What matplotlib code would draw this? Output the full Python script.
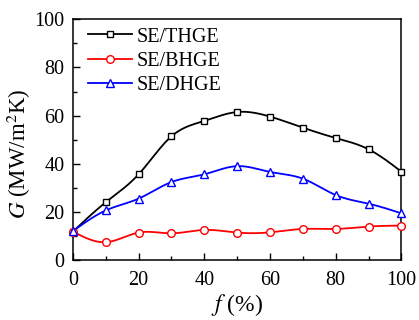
import numpy as np
import matplotlib
matplotlib.use('Agg')
from matplotlib import pyplot as plt
from matplotlib.lines import Line2D
from matplotlib.ticker import MultipleLocator

f = [0, 10, 20, 30, 40, 50, 60, 70, 80, 90, 100]
thge = [11.8, 24.0, 35.6, 51.4, 57.8, 61.5, 59.6, 55.0, 50.7, 46.0, 36.7]
bhge = [11.8, 7.4, 11.4, 11.1, 12.5, 11.4, 11.5, 12.9, 12.9, 13.9, 14.3]
dhge = [12.0, 20.6, 25.5, 32.4, 35.6, 39.0, 36.6, 33.8, 27.0, 23.4, 19.4]

labels = ['SE/THGE', 'SE/BHGE', 'SE/DHGE']
colors = ['black', 'red', 'blue']
markers = ['s', 'o', '^']
msizes = [5, 5.5, 6]


def smooth(x, y, n=20):
    # natural cubic spline for the connecting line
    x = np.asarray(x, float)
    y = np.asarray(y, float)
    m = len(x)
    h = np.diff(x)
    A = np.zeros((m, m))
    r = np.zeros(m)
    A[0, 0] = A[-1, -1] = 1
    for i in range(1, m - 1):
        A[i, i - 1] = h[i - 1]
        A[i, i] = 2 * (h[i - 1] + h[i])
        A[i, i + 1] = h[i]
        r[i] = 6 * ((y[i + 1] - y[i]) / h[i] - (y[i] - y[i - 1]) / h[i - 1])
    M = np.linalg.solve(A, r)
    xs, ys = [], []
    for i in range(m - 1):
        t = np.linspace(x[i], x[i + 1], n, endpoint=(i == m - 2))
        a = x[i + 1] - t
        b = t - x[i]
        v = (M[i] * a**3 + M[i + 1] * b**3) / (6 * h[i]) \
            + (y[i] / h[i] - M[i] * h[i] / 6) * a \
            + (y[i + 1] / h[i] - M[i + 1] * h[i] / 6) * b
        xs.extend(t)
        ys.extend(v)
    return xs, ys


plt.rcParams['font.family'] = ['Liberation Serif', 'DejaVu Serif']
plt.rcParams['mathtext.fontset'] = 'stix'

fig = plt.figure(figsize=(4.19, 3.2), dpi=100)
ax = fig.add_axes([0.174, 0.1875, 0.784, 0.752])

handles = []
for ys, lab, c, mk, ms in zip([thge, bhge, dhge], labels, colors, markers, msizes):
    sx, sy = smooth(f, ys)
    ax.plot(sx, sy, c=c, lw=1.3, zorder=2)
    ax.plot(f, ys, ls='none', marker=mk, ms=ms, mfc='white', mec=c, mew=1.0, zorder=3, clip_on=False)
    handles.append(Line2D([], [], c=c, lw=1.3, marker=mk, ms=ms, mfc='white', mec=c, mew=1.0))

ax.set_xlim(0, 100)
ax.set_ylim(0, 100)
ax.xaxis.set_major_locator(MultipleLocator(20))
ax.xaxis.set_minor_locator(MultipleLocator(10))
ax.yaxis.set_major_locator(MultipleLocator(20))
ax.yaxis.set_minor_locator(MultipleLocator(10))
ax.tick_params(which='both', direction='in', labelsize=14.5, width=1.0)
ax.tick_params(which='major', length=5)
ax.tick_params(which='minor', length=3)
ax.tick_params(axis='x', pad=8)
ax.tick_params(axis='y', pad=6)
for s in ax.spines.values():
    s.set_linewidth(1.1)

ax.set_xlabel(r'$f$ (%)', fontsize=17, labelpad=1)
ax.set_ylabel(r'$G$ (MW/m$^2$K)', fontsize=16.5)
ax.yaxis.set_label_coords(-0.12, 0.44)

ax.legend(handles, labels, loc='upper left', frameon=False, fontsize=14.5,
          handlelength=2.2, handletextpad=0.25, labelspacing=0.25,
          borderaxespad=0, bbox_to_anchor=(0.02, 1.0))

fig.savefig('out.png', dpi=100)
